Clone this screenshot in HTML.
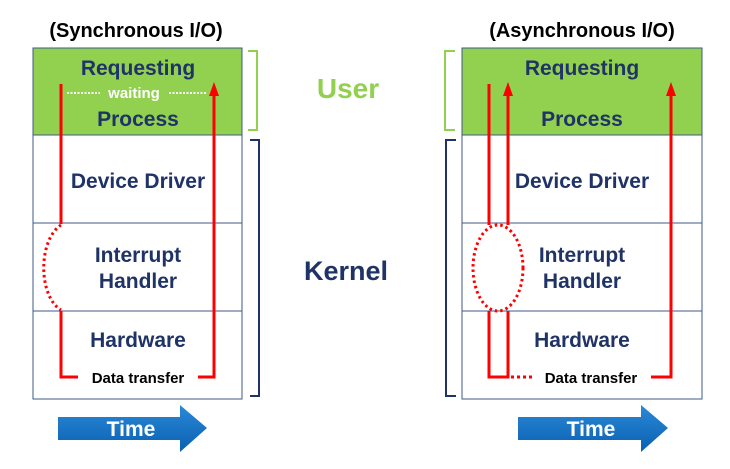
<!DOCTYPE html>
<html><head><style>
html,body{margin:0;padding:0;background:#fff;width:730px;height:469px;overflow:hidden}
text{font-family:"Liberation Sans",Arial,sans-serif;font-weight:bold}
</style></head><body>
<svg width="730" height="469" viewBox="0 0 730 469" xmlns="http://www.w3.org/2000/svg">
<defs>
<linearGradient id="tg" x1="0" y1="0" x2="0" y2="1"><stop offset="0" stop-color="#2a8ad8"/><stop offset="1" stop-color="#0b5fb0"/></linearGradient>
</defs>
<text x="136" y="37" font-size="20" text-anchor="middle" fill="#000">(Synchronous I/O)</text>
<text x="582" y="37" font-size="20" text-anchor="middle" fill="#000">(Asynchronous I/O)</text>

<rect x="33" y="48" width="209" height="87" fill="#92d050" stroke="#3f5a8a" stroke-width="1"/>
<rect x="33" y="135" width="209" height="264" fill="#fff" stroke="#3f5a8a" stroke-width="1"/>
<line x1="33" y1="223" x2="242" y2="223" stroke="#3f5a8a"/>
<line x1="33" y1="311" x2="242" y2="311" stroke="#3f5a8a"/>
<rect x="462" y="48" width="240" height="87" fill="#92d050" stroke="#3f5a8a" stroke-width="1"/>
<rect x="462" y="135" width="240" height="264" fill="#fff" stroke="#3f5a8a" stroke-width="1"/>
<line x1="462" y1="223" x2="702" y2="223" stroke="#3f5a8a"/>
<line x1="462" y1="311" x2="702" y2="311" stroke="#3f5a8a"/>

<g fill="#1f3366" font-size="21" text-anchor="middle">
<text x="138" y="75">Requesting</text>
<text x="138" y="126">Process</text>
<text x="138" y="188">Device Driver</text>
<text x="138" y="262">Interrupt</text>
<text x="138" y="288">Handler</text>
<text x="138" y="347">Hardware</text>
<text x="582" y="75">Requesting</text>
<text x="582" y="126">Process</text>
<text x="582" y="188">Device Driver</text>
<text x="582" y="262">Interrupt</text>
<text x="582" y="288">Handler</text>
<text x="582" y="347">Hardware</text>
</g>
<text x="134" y="98" font-size="15" fill="#fff" text-anchor="middle">waiting</text>
<line x1="67" y1="93" x2="100" y2="93" stroke="#fff" stroke-width="2" stroke-dasharray="2,1.5"/>
<line x1="169" y1="93" x2="207" y2="93" stroke="#fff" stroke-width="2" stroke-dasharray="2,1.5"/>
<text x="138" y="383" font-size="15" fill="#000" text-anchor="middle">Data transfer</text>
<text x="591" y="383" font-size="15" fill="#000" text-anchor="middle">Data transfer</text>

<g stroke="#ff0000" stroke-width="3" fill="none">
<polyline points="61,84 61,224"/>
<polyline points="61,311 61,377 78,377"/>
<polyline points="198,377 214,377 214,95"/>
<path d="M61,225 C38,240 38,296 61,310" stroke-dasharray="2.5,3"/>
<polyline points="489,84 489,225"/>
<polyline points="508,95 508,225"/>
<polyline points="489,311 489,377 508,377 508,311"/>
<line x1="511" y1="377" x2="533" y2="377" stroke-dasharray="3,3"/>
<polyline points="651,377 671,377 671,95"/>
<ellipse cx="498" cy="268" rx="25" ry="43" stroke-dasharray="2.5,3"/>
</g>
<g fill="#ff0000">
<polygon points="214,82 209,96 219,96"/>
<polygon points="508,82 503,96 513,96"/>
<polygon points="671,82 666,96 676,96"/>
</g>
<polyline points="248,51 257,51 257,130 248,130" fill="none" stroke="#92d050" stroke-width="2"/>
<polyline points="455,51 445,51 445,130 455,130" fill="none" stroke="#92d050" stroke-width="2"/>
<polyline points="250,140 259,140 259,396 250,396" fill="none" stroke="#1f3366" stroke-width="2"/>
<polyline points="456,140 446,140 446,396 456,396" fill="none" stroke="#1f3366" stroke-width="2"/>
<text x="348" y="98" font-size="28" fill="#92d050" text-anchor="middle">User</text>
<text x="346" y="280" font-size="27" fill="#1f3366" text-anchor="middle">Kernel</text>
<polygon points="58,417 180,417 180,405 207,428 180,452 180,440 58,440" fill="url(#tg)"/>
<text x="131" y="436" font-size="21" fill="#fff" text-anchor="middle">Time</text>
<polygon points="518,417 641,417 641,405 668,428 641,452 641,440 518,440" fill="url(#tg)"/>
<text x="591" y="436" font-size="21" fill="#fff" text-anchor="middle">Time</text>
</svg>
</body></html>
